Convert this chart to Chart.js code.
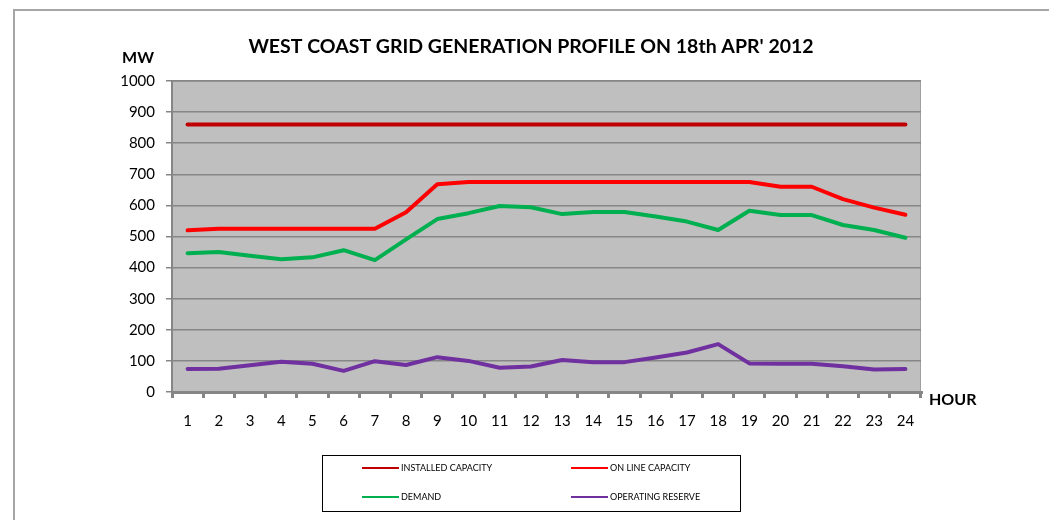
<!DOCTYPE html>
<html>
<head>
<meta charset="utf-8">
<script src="https://cdn.jsdelivr.net/npm/chart.js@4.4.0/dist/chart.umd.min.js"></script>
<style>
  html, body { margin: 0; padding: 0; background: #ffffff; }
  #wrap { width: 1049px; height: 520px; position: relative; }
</style>
</head>
<body>
<div id="wrap"><canvas id="c" width="1049" height="520"></canvas></div>
<script>
const chartTitle = "WEST COAST GRID GENERATION PROFILE ON 18th APR' 2012";
const yAxisTitle = "MW";
const xAxisTitle = "HOUR";
const hours = ["1","2","3","4","5","6","7","8","9","10","11","12","13","14","15","16","17","18","19","20","21","22","23","24"];
const installedCapacity = [860,860,860,860,860,860,860,860,860,860,860,860,860,860,860,860,860,860,860,860,860,860,860,860];
const onlineCapacity = [520,525,525,525,525,525,525,578,668,675,675,675,675,675,675,675,675,675,675,660,660,620,593,570];
const demand = [446,450,438,427,433,456,424,491,556,575,598,594,572,579,579,564,548,521,583,569,569,537,521,496];
const operatingReserve = [74,75,86,97,91,68,99,87,112,100,78,82,103,96,96,111,127,154,92,91,91,83,72,74];
const seriesNames = ["INSTALLED CAPACITY", "ON LINE CAPACITY", "DEMAND", "OPERATING RESERVE"];
const seriesColors = ["#C00000", "#FF0000", "#00B050", "#7030A0"];
const yTicks = [0,100,200,300,400,500,600,700,800,900,1000];

const FONT = "Lato, 'Open Sans', sans-serif";
const PLOT_LEFT = 172, PLOT_RIGHT = 921, PLOT_TOP = 81, PLOT_BOTTOM = 392;

const decor = {
  id: 'decor',
  beforeDraw(chart) {
    const ctx = chart.ctx;
    const a = chart.chartArea;
    ctx.save();
    ctx.fillStyle = '#ffffff';
    ctx.fillRect(0, 0, chart.width, chart.height);
    ctx.strokeStyle = '#A6A6A6';
    ctx.lineWidth = 2;
    ctx.beginPath();
    ctx.moveTo(14, 521); ctx.lineTo(14, 10); ctx.lineTo(1050, 10);
    ctx.stroke();
    ctx.fillStyle = '#BFBFBF';
    ctx.fillRect(a.left, a.top, a.right - a.left, a.bottom - a.top);
    ctx.strokeStyle = '#A0A0A0';
    ctx.lineWidth = 1;
    ctx.strokeRect(a.left + 0.5, a.top + 0.5, a.right - a.left - 1, a.bottom - a.top - 1);
    ctx.restore();
  },
  afterDraw(chart) {
    const ctx = chart.ctx;
    ctx.save();
    ctx.fillStyle = '#000000';
    ctx.textBaseline = 'middle';
    ctx.textAlign = 'center';
    ctx.font = "bold 19.5px " + FONT;
    ctx.fillText(chartTitle, 531, 47);
    ctx.font = "bold 16px " + FONT;
    ctx.textAlign = 'right';
    ctx.fillText(yAxisTitle, 154, 58);
    ctx.textAlign = 'left';
    ctx.fillText(xAxisTitle, 929, 400);
    ctx.strokeStyle = '#000000';
    ctx.lineWidth = 1;
    ctx.strokeRect(322.5, 455.5, 418, 56);
    const pos = [[362, 468], [571, 468], [362, 497], [571, 497]];
    ctx.font = "9px " + FONT;
    chart.data.datasets.forEach((ds, i) => {
      const [x, y] = pos[i];
      ctx.strokeStyle = ds.borderColor;
      ctx.lineWidth = 2;
      ctx.beginPath();
      ctx.moveTo(x, y); ctx.lineTo(x + 37, y);
      ctx.stroke();
      ctx.fillStyle = '#000000';
      ctx.textAlign = 'left';
      ctx.fillText(ds.label, x + 39, y + 0.5);
    });
    ctx.restore();
  }
};

const values = [installedCapacity, onlineCapacity, demand, operatingReserve];

new Chart(document.getElementById('c'), {
  type: 'line',
  data: {
    labels: hours,
    datasets: values.map((v, i) => ({
      label: seriesNames[i],
      data: v,
      borderColor: seriesColors[i],
      backgroundColor: seriesColors[i],
      borderWidth: 4,
      pointRadius: 0,
      tension: 0,
      borderCapStyle: 'round',
      borderJoinStyle: 'round',
      fill: false
    }))
  },
  options: {
    responsive: false,
    animation: false,
    devicePixelRatio: 1,
    layout: { padding: { left: 0, top: PLOT_TOP, right: 1049 - PLOT_RIGHT, bottom: 0 } },
    plugins: { legend: { display: false }, title: { display: false }, tooltip: { enabled: false } },
    scales: {
      x: {
        type: 'category',
        offset: true,
        grid: { display: true, drawOnChartArea: false, drawTicks: true, offset: true, tickLength: 6, color: '#868686', lineWidth: 3 },
        border: { display: true, color: '#868686', width: 3 },
        ticks: { color: '#000000', font: { family: FONT, size: 15 }, padding: 14, maxRotation: 0, autoSkip: false },
        afterFit(scale) { scale.height = 520 - PLOT_BOTTOM; }
      },
      y: {
        min: 0, max: 1000,
        afterBuildTicks(scale) { scale.ticks = yTicks.map(v => ({ value: v })); },
        grid: { color: '#868686', lineWidth: 1.5, tickLength: 6, drawTicks: true },
        border: { display: true, color: '#868686', width: 2 },
        ticks: { color: '#000000', font: { family: FONT, size: 15 }, padding: 11, callback: (v) => String(v) },
        afterFit(scale) { scale.width = PLOT_LEFT; }
      }
    }
  },
  plugins: [decor]
});
</script>
</body>
</html>
